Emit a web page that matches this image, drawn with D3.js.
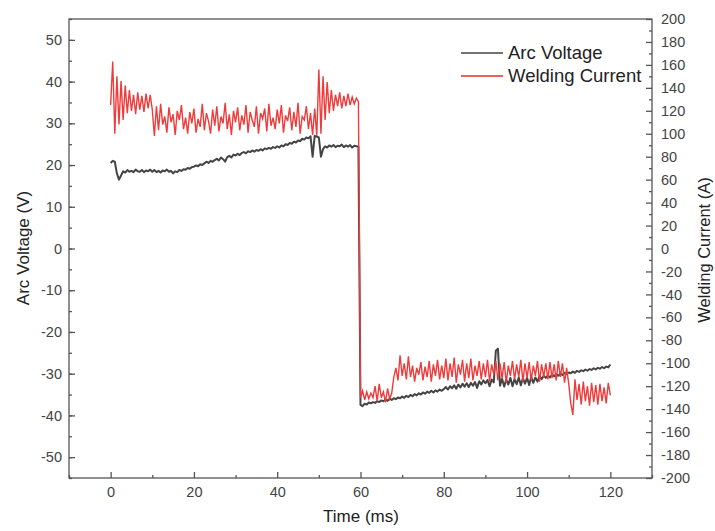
<!DOCTYPE html>
<html>
<head>
<meta charset="utf-8">
<script src="https://cdn.jsdelivr.net/npm/d3@7"></script>
<style>
  body { margin: 0; background: #fff; }
  svg { font-family: "Liberation Sans", Arial, sans-serif; }
  .axis path, .axis line { stroke: #555; stroke-width: 1.3; }
  .axis text { fill: #444; font-size: 14.5px; }
</style>
</head>
<body>
<svg id="chart"></svg>
<script>
// sampling: one reading every 0.5 ms, 0..120 ms
const sampleStep = 0.5

// Arc voltage (V)
const arcVoltage = [
  20.5,21,20.8,18,16.5,17.5,18.5,18.2,18.8,18.4,18.6,18.3,18.9,18.5,18.4,18.8,18.3,18.7,18.5,18.9,
  18.4,18.8,18.3,18.6,18.2,18.7,18.5,18.9,18.4,18.6,18,18.5,18.3,18.8,18.6,19,18.9,19.3,19.1,19.5,
  19.6,19.9,19.7,20.2,20,20.4,20.8,20.5,21,20.8,21.2,21.5,21.1,21.8,21.4,20.8,21.9,22.2,21.8,22.5,
  22.3,22.7,22.4,22.9,23.1,22.8,23.3,23.1,23.5,23.2,23.6,23.4,23.8,23.5,24,23.8,24.1,23.9,24.3,24.1,
  24.5,24.2,24.7,24.5,25,24.8,25.3,25.1,25.6,25.4,25.9,25.7,26.3,26.1,26.6,26.4,26.9,22,27,26.8,
  26.6,22,23.8,24.5,24.2,24.7,24.4,24.8,24.3,24.6,24.5,24.9,24.3,24.7,24.4,24.8,24.2,24.6,24.5,24.4,
  -37.5,-37.8,-37.2,-37.4,-36.9,-37.1,-36.8,-37,-36.6,-36.8,-36.4,-36.6,-36.2,-36.5,-36,-36.3,-35.9,-36.1,-35.7,-35.9,
  -35.5,-35.8,-35.3,-35.6,-35.1,-35.4,-34.9,-35.2,-34.7,-35,-34.5,-34.8,-34.3,-34.6,-34.1,-34.5,-34,-34.3,-33.8,-34.1,
  -33.7,-33.2,-33.8,-33,-33.5,-32.8,-33.6,-32.6,-33.3,-32.4,-33.1,-32.3,-33.2,-32.2,-32.9,-32,-33.4,-31.8,-32.6,-31.6,
  -32.3,-31.5,-33,-31.4,-32.1,-24.5,-24,-32.9,-31.2,-33.1,-31.4,-32.6,-31,-33,-31.3,-32.5,-30.9,-32.8,-31.1,-32.4,
  -31,-32.7,-30.8,-32.2,-30.9,-31.9,-30.6,-31.3,-30.5,-31,-30.4,-30.9,-30.2,-30.6,-30.1,-30.5,-30,-30.3,-29.8,-30.1,
  -29.7,-29.9,-29.5,-29.8,-29.3,-29.6,-29.2,-29.4,-29,-29.3,-28.9,-29.1,-28.7,-29,-28.6,-28.8,-28.4,-28.7,-28.3,-28.5,
  -27.8
]

// Welding current (A)
const weldingCurrent = [
  125,163,100,150,108,146,112,142,118,138,120,134,117,136,121,133,119,135,122,134,
  121,98,124,103,126,108,115,101,123,110,117,99,120,112,125,104,114,100,119,109,
  122,101,113,106,126,103,118,111,100,121,107,124,102,115,109,127,104,117,99,120,
  110,123,103,116,108,125,101,119,112,106,124,100,118,113,122,102,126,107,114,104,
  121,109,125,101,116,111,123,103,119,106,127,100,115,112,124,104,118,99,122,98,
  156,100,150,112,145,118,138,120,134,124,136,122,133,124,135,125,132,126,131,128,
  -130,-124,-132,-125,-131,-126,-130,-120,-133,-118,-130,-125,-134,-122,-131,-126,-112,-104,-115,-93,
  -111,-100,-114,-94,-112,-102,-116,-104,-110,-99,-115,-103,-112,-98,-116,-101,-111,-97,-114,-102,
  -113,-96,-115,-100,-112,-95,-117,-101,-110,-97,-116,-100,-113,-96,-115,-102,-111,-98,-114,-100,
  -112,-97,-116,-101,-110,-98,-115,-100,-113,-99,-117,-102,-111,-98,-114,-101,-112,-97,-116,-100,
  -113,-99,-115,-102,-111,-98,-116,-101,-112,-100,-114,-99,-113,-101,-115,-98,-112,-100,-117,-104,
  -118,-135,-145,-114,-132,-118,-136,-116,-133,-120,-137,-117,-134,-119,-136,-118,-133,-121,-135,-117,
  -128
]

const xTicks = [0, 20, 40, 60, 80, 100, 120]
const voltTicks = [-50, -40, -30, -20, -10, 0, 10, 20, 30, 40, 50]
const currTicks = d3.range(-200, 201, 20)

const width = 715, height = 531
const m = { left: 69, right: 652, top: 19, bottom: 478 }

const svg = d3.select('#chart').attr('width', width).attr('height', height)

const x = d3.scaleLinear().domain([-10, 130]).range([m.left, m.right])
const yV = d3.scaleLinear().domain([-55, 55]).range([m.bottom, m.top])
const yA = d3.scaleLinear().domain([-200, 200]).range([m.bottom, m.top])

const plain = d => String(d)   // hyphen minus like the original

// frame
svg.append('rect')
  .attr('x', m.left).attr('y', m.top)
  .attr('width', m.right - m.left).attr('height', m.bottom - m.top)
  .attr('fill', 'none').attr('stroke', '#555').attr('stroke-width', 1.3)

// minor ticks first
svg.append('g').attr('class', 'axis').attr('transform', `translate(${m.left},0)`)
  .call(d3.axisLeft(yV).tickValues(d3.range(-55, 56, 5)).tickSize(-3).tickFormat(''))
svg.append('g').attr('class', 'axis').attr('transform', `translate(${m.right},0)`)
  .call(d3.axisRight(yA).tickValues(d3.range(-190, 200, 20)).tickSize(-3).tickFormat(''))
svg.append('g').attr('class', 'axis').attr('transform', `translate(0,${m.bottom})`)
  .call(d3.axisBottom(x).tickValues(d3.range(-10, 131, 20)).tickSize(-3).tickFormat(''))

// major ticks
svg.append('g').attr('class', 'axis').attr('transform', `translate(${m.left},0)`)
  .call(d3.axisLeft(yV).tickValues(voltTicks).tickSize(-6).tickPadding(7).tickFormat(plain))
svg.append('g').attr('class', 'axis').attr('transform', `translate(${m.right},0)`)
  .call(d3.axisRight(yA).tickValues(currTicks).tickSize(-6).tickPadding(9).tickFormat(plain))
svg.append('g').attr('class', 'axis').attr('transform', `translate(0,${m.bottom})`)
  .call(d3.axisBottom(x).tickValues(xTicks).tickSize(-6).tickPadding(9).tickFormat(plain))
svg.selectAll('.axis .domain').remove()

// axis titles
svg.append('text').attr('transform', `translate(29,248) rotate(-90)`)
  .attr('text-anchor', 'middle').attr('font-size', 17).attr('fill', '#222')
  .text('Arc Voltage (V)')
svg.append('text').attr('transform', `translate(710,250) rotate(-90)`)
  .attr('text-anchor', 'middle').attr('font-size', 16.5).attr('fill', '#222')
  .text('Welding Current (A)')
svg.append('text').attr('x', 361).attr('y', 522)
  .attr('text-anchor', 'middle').attr('font-size', 17).attr('fill', '#222')
  .text('Time (ms)')

// lines
const t = (d, i) => x(i * sampleStep)
svg.append('path').datum(arcVoltage)
  .attr('fill', 'none').attr('stroke', '#444').attr('stroke-width', 2)
  .attr('stroke-linejoin', 'round')
  .attr('d', d3.line().x(t).y(d => yV(d)))
svg.append('path').datum(weldingCurrent)
  .attr('fill', 'none').attr('stroke', '#ee3b3b').attr('stroke-width', 1.4)
  .attr('d', d3.line().x(t).y(d => yA(d)))

// legend
const legend = [['Arc Voltage', '#444'], ['Welding Current', '#ee2a2a']]
const lg = svg.append('g')
legend.forEach((d, i) => {
  lg.append('line').attr('x1', 461).attr('x2', 503)
    .attr('y1', 53 + i * 23).attr('y2', 53 + i * 23)
    .attr('stroke', d[1]).attr('stroke-width', 1.5)
  lg.append('text').attr('x', 508).attr('y', 59 + i * 23)
    .attr('font-size', 18.5).attr('fill', '#222').text(d[0])
})
</script>
</body>
</html>
